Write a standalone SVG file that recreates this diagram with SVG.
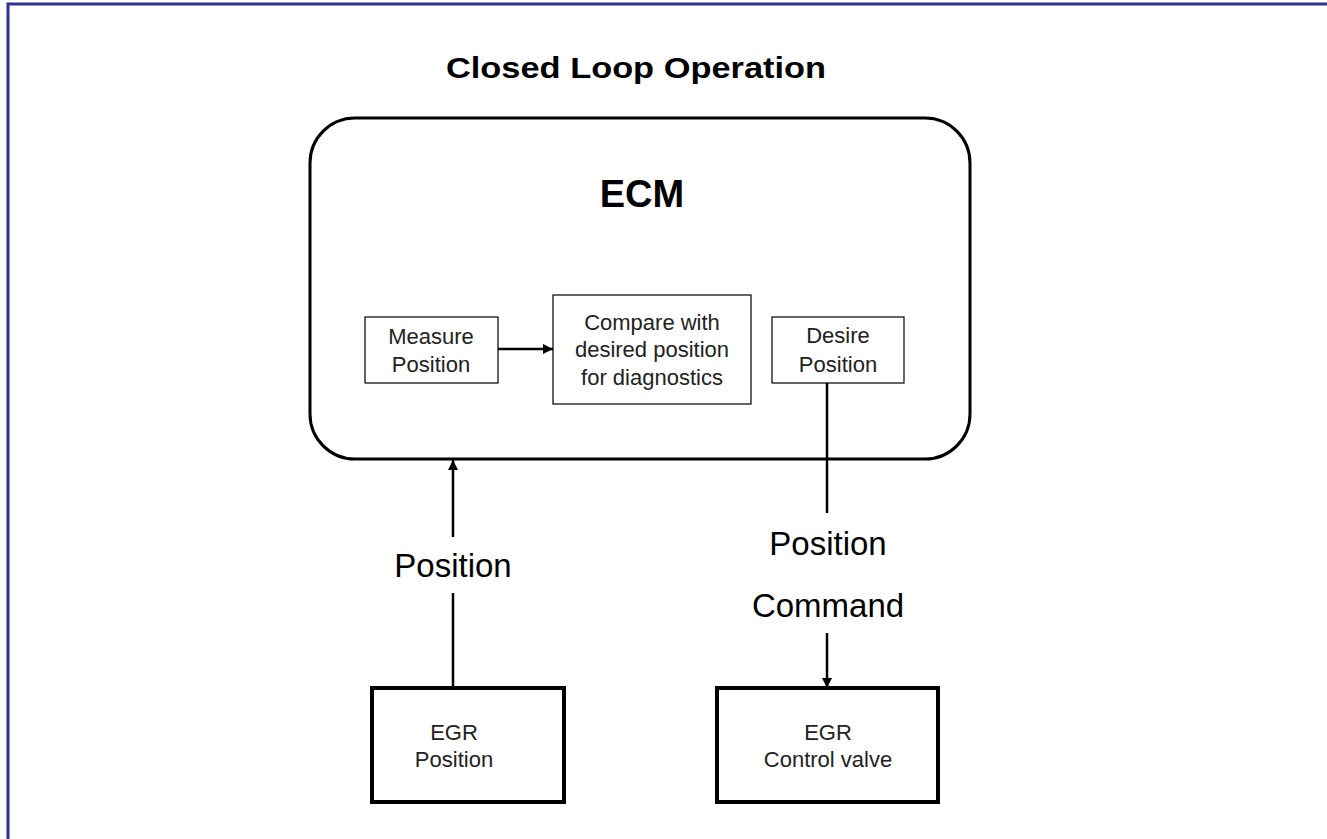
<svg xmlns="http://www.w3.org/2000/svg" width="1327" height="839" viewBox="0 0 1327 839">
<defs>
<style>
.bg{fill:#ffffff}
.frame{fill:none;stroke:#2e3192;stroke-width:3}
.ecm{fill:#ffffff;stroke:#000;stroke-width:3}
.inner{fill:#ffffff;stroke:#000;stroke-width:1.2}
.heavy{fill:#ffffff;stroke:#000;stroke-width:4}
.line{fill:none;stroke:#000;stroke-width:2.5}
.small{font-family:"Liberation Sans",Arial,sans-serif;font-size:22px;fill:#222;text-anchor:middle}
.label{font-family:"Liberation Sans",Arial,sans-serif;font-size:33px;fill:#000;text-anchor:middle}
.bold{font-family:"Liberation Sans",Arial,sans-serif;font-weight:bold;fill:#000;text-anchor:middle}
</style>
<marker id="arrow" viewBox="0 0 10 10" refX="10" refY="5" markerWidth="4" markerHeight="4" orient="auto" markerUnits="strokeWidth">
<path d="M0,0 L10,5 L0,10 z" fill="#000"/>
</marker>
</defs>
<rect class="bg" x="0" y="0" width="1327" height="839"/>
<rect class="frame" x="8" y="4" width="1400" height="900"/>
<text class="bold" x="636" y="78" font-size="29" textLength="380" lengthAdjust="spacingAndGlyphs">Closed Loop Operation</text>

<g id="ecm">
<rect class="ecm" x="310" y="118" width="660" height="341" rx="45" ry="45"/>
<text class="bold" x="642" y="207" font-size="38">ECM</text>
</g>
<g id="measure">
<rect class="inner" x="365" y="317" width="133" height="66"/>
<text class="small" x="431" y="344">Measure</text>
<text class="small" x="431" y="372">Position</text>
</g>
<g id="compare">
<rect class="inner" x="553" y="295" width="198" height="109"/>
<text class="small" x="652" y="330">Compare with</text>
<text class="small" x="652" y="357">desired position</text>
<text class="small" x="652" y="385">for diagnostics</text>
</g>
<g id="desire">
<rect class="inner" x="772" y="317" width="132" height="66"/>
<text class="small" x="838" y="343">Desire</text>
<text class="small" x="838" y="372">Position</text>
</g>
<g id="egr-position">
<rect class="heavy" x="372" y="688" width="192" height="114"/>
<text class="small" x="454" y="740">EGR</text>
<text class="small" x="454" y="767">Position</text>
</g>
<g id="egr-valve">
<rect class="heavy" x="717" y="688" width="221" height="114"/>
<text class="small" x="828" y="740">EGR</text>
<text class="small" x="828" y="767">Control valve</text>
</g>

<g id="connectors">
<line class="line" x1="498" y1="349" x2="553" y2="349" marker-end="url(#arrow)"/>
<line class="line" x1="453" y1="688" x2="453" y2="593"/>
<line class="line" x1="453" y1="537" x2="453" y2="460" marker-end="url(#arrow)"/>
<line class="line" x1="827" y1="383" x2="827" y2="513"/>
<line class="line" x1="827" y1="633" x2="827" y2="688" marker-end="url(#arrow)"/>
<text class="label" x="453" y="577">Position</text>
<text class="label" x="828" y="555">Position</text>
<text class="label" x="828" y="617">Command</text>
</g>
</svg>
